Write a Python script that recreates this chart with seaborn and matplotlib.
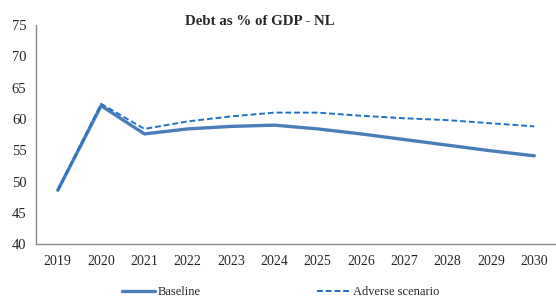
import matplotlib
matplotlib.use("Agg")
import matplotlib.pyplot as plt
import numpy as np
import pandas as pd
import seaborn as sns

years = ['2019', '2020', '2021', '2022', '2023', '2024', '2025', '2026', '2027', '2028', '2029', '2030']
baseline = [48.6, 62.1, 57.6, 58.4, 58.8, 59.0, 58.4, 57.6, 56.7, 55.8, 54.9, 54.1]
adverse = [48.6, 62.4, 58.4, 59.6, 60.4, 61.0, 61.0, 60.5, 60.1, 59.8, 59.3, 58.8]

df = pd.DataFrame({
    'year': years * 2,
    'value': baseline + adverse,
    'series': ['Baseline'] * len(years) + ['Adverse scenario'] * len(years),
})

sns.set_style('white')
plt.rcParams['font.family'] = ['Liberation Serif', 'DejaVu Serif']
plt.rcParams['font.size'] = 10

fig = plt.figure(figsize=(5.56, 2.97), dpi=100)
ax = fig.add_axes([0.065, 0.178, 0.935, 0.738])

sns.lineplot(data=df[df.series == 'Baseline'], x='year', y='value', ax=ax,
             color='#4a7ebb', linewidth=2.4, label='Baseline', sort=False)
sns.lineplot(data=df[df.series == 'Adverse scenario'], x='year', y='value', ax=ax,
             color='#1f72c6', linewidth=1.4, linestyle=(0, (3, 1.5)),
             label='Adverse scenario', sort=False)

ax.set_ylim(40, 75)
ax.set_yticks(range(40, 80, 5))
ax.set_xlim(-0.5, len(years) - 0.5)
ax.set_xticks(np.arange(len(years)))
ax.set_xticks(np.arange(len(years)) + 0.5, minor=True)
ax.tick_params(axis='x', which='major', length=0, pad=8, labelsize=10)
ax.tick_params(axis='x', which='minor', length=4, direction='in', color='#888888', width=0.8)
ax.tick_params(axis='y', length=4, direction='out', color='#888888', width=0.8, labelsize=10.5, pad=3)
ax.set_xlabel('')
ax.set_ylabel('')

for s in ['top', 'right']:
    ax.spines[s].set_visible(False)
for s in ['left', 'bottom']:
    ax.spines[s].set_color('#888888')
    ax.spines[s].set_linewidth(1.0)

fig.text(0.468, 0.927, 'Debt as % of GDP - NL', ha='center', va='center',
         fontsize=10.7, fontweight='bold')

ax.legend(loc='upper center', bbox_to_anchor=(0.47, -0.14), ncol=2, frameon=False,
          fontsize=9, handlelength=2.6, columnspacing=9.3, handletextpad=0.25)

fig.savefig('out.png', dpi=100)
